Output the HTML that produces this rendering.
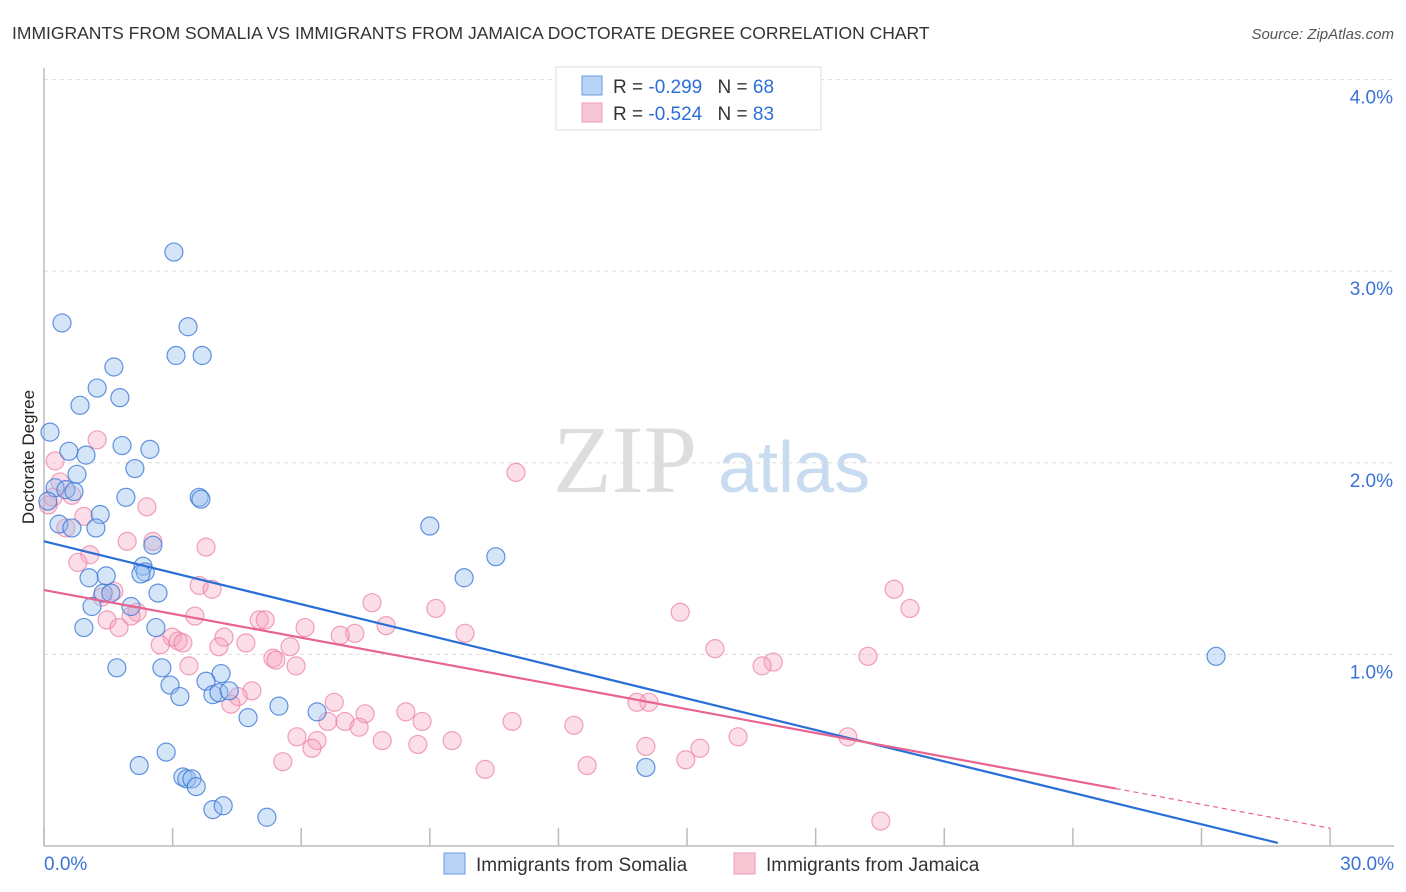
<!DOCTYPE html>
<html><head><meta charset="utf-8"><style>
body{margin:0;background:#fff;font-family:"Liberation Sans",sans-serif}
svg{display:block}
</style></head><body>
<svg id="c" width="1406" height="892">
<text x="12" y="39" font-size="17.5" fill="#333">IMMIGRANTS FROM SOMALIA VS IMMIGRANTS FROM JAMAICA DOCTORATE DEGREE CORRELATION CHART</text>
<text x="1394" y="39" font-size="15" fill="#555" font-style="italic" text-anchor="end">Source: ZipAtlas.com</text>
<text x="0" y="0" font-size="17" fill="#222" transform="translate(34,457) rotate(-90)" text-anchor="middle">Doctorate Degree</text>
<g><text x="553" y="492" font-size="96" fill="#ddd" font-family="Liberation Serif,serif">ZIP</text><text x="718" y="492" font-size="72" fill="#c9dbf0">atlas</text></g>
<g id="grid"></g><g id="axes"></g><g id="pts"></g><g id="lines"></g>
<g>
<rect x="556" y="67" width="265" height="63" fill="#fff" stroke="#ddd"/>
<rect x="582" y="76" width="20" height="19" fill="#b8d3f3" stroke="#6a9be0"/>
<rect x="582" y="103" width="20" height="19" fill="#f9c6d5" stroke="#ee9ab5"/>
<text x="613" y="93" font-size="19" fill="#333">R = <tspan fill="#2d6fd8">-0.299</tspan>   <tspan dx="10">N = </tspan><tspan fill="#2d6fd8">68</tspan></text>
<text x="613" y="120" font-size="19" fill="#333">R = <tspan fill="#2d6fd8">-0.524</tspan>   <tspan dx="10">N = </tspan><tspan fill="#2d6fd8">83</tspan></text>
</g>
<g>
<rect x="444" y="853" width="21" height="21" fill="#b8d3f3" stroke="#6a9be0"/>
<text x="476" y="871" font-size="19" fill="#333">Immigrants from Somalia</text>
<rect x="734" y="853" width="21" height="21" fill="#f9c6d5" stroke="#ee9ab5"/>
<text x="766" y="871" font-size="19" fill="#333">Immigrants from Jamaica</text>
</g>
</svg>
<script>
const yTicks=[1,2,3,4];
const yTickLabels=["1.0%","2.0%","3.0%","4.0%"];
const xTickVals=[0,3,6,9,12,15,18,21,24,27,30];
const somaliaX=[3.03,0.42,3.36,3.08,3.69,1.63,1.24,1.77,0.84,0.14,1.82,2.47,0.58,0.98,2.12,0.77,0.26,0.51,0.70,1.91,3.62,3.66,1.31,0.35,0.65,1.21,2.54,9.00,10.54,9.80,2.31,2.36,1.45,1.05,2.26,2.66,1.38,1.56,2.03,1.12,0.93,2.61,1.70,2.75,4.13,2.94,3.78,3.17,3.94,4.08,4.32,4.76,5.48,6.37,27.34,14.04,2.22,2.85,3.24,3.33,3.45,3.55,3.94,4.18,5.20,0.09];
const somaliaY=[3.10,2.73,2.71,2.56,2.56,2.50,2.39,2.34,2.30,2.16,2.09,2.07,2.06,2.04,1.97,1.94,1.87,1.86,1.85,1.82,1.82,1.81,1.73,1.68,1.66,1.66,1.57,1.67,1.51,1.40,1.46,1.43,1.41,1.40,1.42,1.32,1.32,1.32,1.25,1.25,1.14,1.14,0.93,0.93,0.90,0.84,0.86,0.78,0.79,0.80,0.81,0.67,0.73,0.70,0.99,0.41,0.42,0.49,0.36,0.35,0.35,0.31,0.19,0.21,0.15,1.80];
const jamaicaX=[1.24,0.26,11.01,0.65,0.21,0.37,2.40,0.93,0.51,1.07,0.79,1.94,2.54,3.78,3.62,3.92,1.63,1.35,19.83,20.20,7.65,9.14,14.84,2.17,1.47,2.03,3.52,5.02,5.16,1.75,7.98,6.09,9.82,7.25,6.91,4.20,2.99,3.13,3.24,2.71,4.71,4.08,5.74,15.65,5.34,5.41,5.88,3.38,17.01,16.75,19.22,4.85,4.53,4.36,6.77,14.11,13.83,8.44,7.49,8.82,7.02,6.62,10.92,12.36,7.35,16.19,18.75,5.90,6.37,7.89,9.52,8.72,14.04,6.25,15.30,14.97,5.57,12.67,10.29,19.52,0.10];
const jamaicaY=[2.12,2.01,1.95,1.83,1.82,1.90,1.77,1.72,1.66,1.52,1.48,1.59,1.59,1.56,1.36,1.34,1.33,1.30,1.34,1.24,1.27,1.24,1.22,1.22,1.18,1.20,1.20,1.18,1.18,1.14,1.15,1.14,1.11,1.11,1.10,1.09,1.09,1.07,1.06,1.05,1.06,1.04,1.04,1.03,0.98,0.97,0.94,0.94,0.96,0.94,0.99,0.81,0.78,0.74,0.75,0.75,0.75,0.70,0.69,0.65,0.65,0.65,0.65,0.63,0.62,0.57,0.57,0.57,0.55,0.55,0.55,0.53,0.52,0.51,0.51,0.45,0.44,0.42,0.40,0.13,1.78];
const somaliaTrend=[1.59,0.016];
const jamaicaTrend=[1.336,0.30];
const NS="http://www.w3.org/2000/svg";
const X=v=>44+v*42.87, Y=v=>846-v*191.6;
function mk(t,a,p){const e=document.createElementNS(NS,t);for(const k in a)e.setAttribute(k,a[k]);p.appendChild(e);return e;}
const grid=document.getElementById('grid'),axes=document.getElementById('axes'),pts=document.getElementById('pts'),lines=document.getElementById('lines');
yTicks.forEach((v,i)=>{
 const l=mk('line',{x1:44,x2:1394,y1:Y(v),y2:Y(v),stroke:'#ddd','stroke-dasharray':'4,4'},grid);
 
 
 const t=mk('text',{x:1393,y:Y(v)+24,'font-size':19,fill:'#3a72d6','text-anchor':'end'},axes);
 t.textContent=yTickLabels[i];
 
 
});
const ya=mk('line',{x1:44,x2:44,y1:68,y2:846,stroke:'#bbb','stroke-width':1.5},axes);


const xa=mk('line',{x1:44,x2:1394,y1:846,y2:846,stroke:'#bbb','stroke-width':1.5},axes);


xTickVals.forEach(v=>{const t=mk('line',{x1:X(v),x2:X(v),y1:828,y2:846,stroke:'#bbb','stroke-width':1.5},axes);
 
 });
const x0=mk('text',{x:44,y:870,'font-size':19,fill:'#3a72d6'},axes);x0.textContent='0.0%';


const x1=mk('text',{x:1394,y:870,'font-size':19,fill:'#3a72d6','text-anchor':'end'},axes);x1.textContent='30.0%';


jamaicaX.forEach((v,i)=>{const c=mk('circle',{cx:X(v),cy:Y(jamaicaY[i]),r:9,fill:'rgba(245,160,188,0.35)',stroke:'rgba(236,130,165,0.75)','stroke-width':1.2},pts);
 
 });
somaliaX.forEach((v,i)=>{const c=mk('circle',{cx:X(v),cy:Y(somaliaY[i]),r:9,fill:'rgba(150,190,238,0.4)',stroke:'rgba(60,120,215,0.8)','stroke-width':1.2},pts);
 
 });
const sl=v=>somaliaTrend[0]+(somaliaTrend[1]-somaliaTrend[0])*v/28.78;
const b=mk('line',{x1:X(0),y1:Y(sl(0)),x2:X(28.78),y2:Y(sl(28.78)),stroke:'#2a6fd6','stroke-width':2.2},lines);


const jl=v=>jamaicaTrend[0]+(jamaicaTrend[1]-jamaicaTrend[0])*v/25;
const p=mk('line',{x1:X(0),y1:Y(jl(0)),x2:X(25),y2:Y(jl(25)),stroke:'#e8648f','stroke-width':2.2},lines);


const pd=mk('line',{x1:X(25),y1:Y(jl(25)),x2:X(30),y2:Y(jl(30)),stroke:'#e8648f','stroke-width':1.2,'stroke-dasharray':'5,4'},lines);


</script>
</body></html>
